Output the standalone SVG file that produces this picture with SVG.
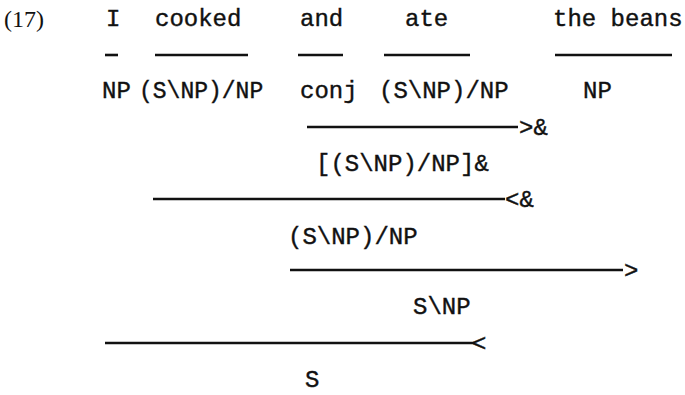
<svg xmlns="http://www.w3.org/2000/svg" width="685" height="395" viewBox="0 0 685 395">
<style>
.t{font-family:"Liberation Mono","DejaVu Sans Mono",monospace;font-size:24px;fill:#111;stroke:#111;stroke-width:0.4}
.n{font-family:"Liberation Serif","Times New Roman",serif;font-size:24px;fill:#111}
.l{stroke:#111;stroke-width:2.6;fill:none}
</style>
<rect width="685" height="395" fill="#fff"/>
<g id="label"><text class="n" x="4" y="27">(17)</text></g>
<g id="words">
<text class="t" x="106" y="26">I</text>
<text class="t" x="155" y="26">cooked</text>
<text class="t" x="300" y="26">and</text>
<text class="t" x="405" y="26">ate</text>
<text class="t" x="553" y="26">the beans</text>
</g>
<g id="lexical">
<text class="t" x="102" y="98">NP</text>
<text class="t" x="139" y="98" style="font-size:23px">(S\NP)/NP</text>
<text class="t" x="300" y="98">conj</text>
<text class="t" x="379" y="98">(S\NP)/NP</text>
<text class="t" x="583" y="98">NP</text>
</g>
<g id="conj1"><text class="t" x="316" y="171">[(S\NP)/NP]&amp;</text></g>
<g id="coord"><text class="t" x="288" y="244">(S\NP)/NP</text></g>
<g id="vp"><text class="t" x="413" y="314">S\NP</text></g>
<g id="sent"><text class="t" x="305" y="387">S</text></g>
<g id="connectors">
<line class="l" x1="105" y1="55" x2="118" y2="55"/>
<line class="l" x1="155" y1="55" x2="248" y2="55"/>
<line class="l" x1="298" y1="55" x2="343" y2="55"/>
<line class="l" x1="384" y1="55" x2="470" y2="55"/>
<line class="l" x1="555" y1="55" x2="672" y2="55"/>
<line class="l" x1="307" y1="127" x2="518" y2="127"/>
<text class="t" x="519" y="135">&gt;&amp;</text>
<line class="l" x1="153" y1="199" x2="505" y2="199"/>
<text class="t" x="505" y="207">&lt;&amp;</text>
<line class="l" x1="290" y1="270" x2="623" y2="270"/>
<text class="t" x="624" y="278">&gt;</text>
<line class="l" x1="105" y1="343" x2="474" y2="343"/>
<text class="t" x="472" y="351">&lt;</text>
</g>
</svg>
